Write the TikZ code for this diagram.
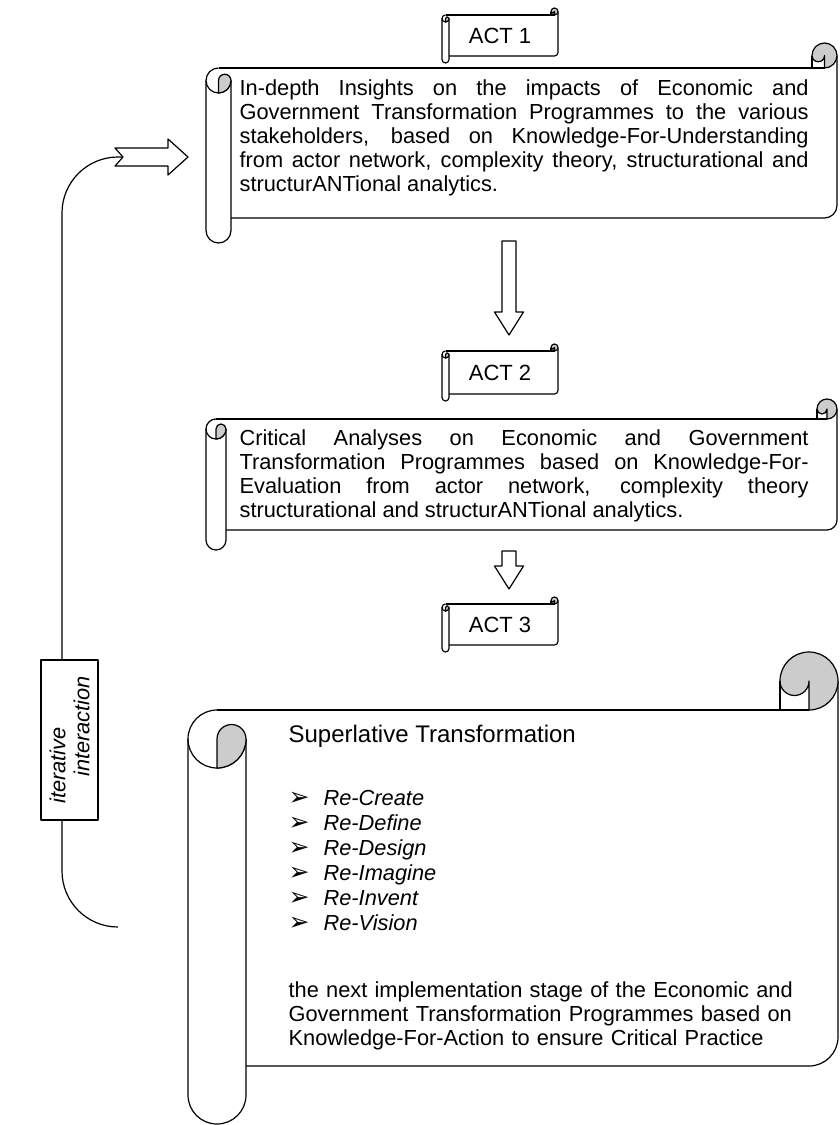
\documentclass[tikz,border=0pt]{standalone}
\usepackage{fontspec}
\usepackage{tikz}
\setmainfont{Liberation Sans}
\newfontfamily\dejavu{DejaVu Sans}
\definecolor{rollgray}{gray}{0.8}
\tolerance=10000
\hyphenpenalty=10000
\exhyphenpenalty=10000

\tikzset{
  bodytext/.style={font=\fontsize{21.8}{24}\selectfont, inner sep=0pt, align=justify},
  listtext/.style={font=\fontsize{21.8}{25}\selectfont, inner sep=0pt, align=left},
  titletext/.style={font=\fontsize{24}{28}\selectfont, inner sep=0pt},
  acttext/.style={font=\fontsize{22}{24}\selectfont, inner sep=0pt},
}

% horizontal scroll: left, top, right, bottom (measured downwards), roll size
\newcommand{\scrollshape}[5]{%
  \pgfmathsetmacro\scL{#1}%
  \pgfmathsetmacro\scT{-(#2)}%
  \pgfmathsetmacro\scR{#3}%
  \pgfmathsetmacro\scB{-(#4)}%
  \pgfmathsetmacro\scC{#5}%
  \pgfmathsetmacro\scH{(#5)/2}%
  \pgfmathsetmacro\scQ{(#5)/4}%
  % sheet
  \draw (\scL+\scH,\scT-\scC) -- (\scR-\scH,\scT-\scC);
  \draw (\scR,\scT-\scH) -- (\scR,\scB+\scC+\scH)
    arc[start angle=0, end angle=-90, radius=\scH] -- (\scL+\scC,\scB+\scC);
  % left roll
  \draw (\scL+\scH,\scT-\scC) arc[start angle=90, end angle=360, radius=\scH];
  \draw (\scL,\scT-\scC-\scH) -- (\scL,\scB+\scH)
    arc[start angle=180, end angle=360, radius=\scH] -- (\scL+\scC,\scT-\scC-\scH);
  \filldraw[fill=rollgray] (\scL+\scH,\scT-\scC-\scH)
    arc[start angle=180, end angle=0, radius=\scQ]
    arc[start angle=0, end angle=-90, radius=\scH] -- cycle;
  % right curl
  \filldraw[fill=rollgray] (\scR-\scH,\scT-\scC)
    arc[start angle=-90, end angle=180, radius=\scH]
    arc[start angle=180, end angle=360, radius=\scQ] -- cycle;
  \draw (\scR-\scC,\scT-\scH) -- (\scR-\scC,\scT-\scC);
}

% block arrow pointing down: x, top, head base, tip
\newcommand{\downblock}[4]{%
  \draw[fill=white] (#1-7,-#2) -- (#1+7,-#2) -- (#1+7,-#3) -- (#1+14.5,-#3)
    -- (#1,-#4) -- (#1-14.5,-#3) -- (#1-7,-#3) -- cycle;
}

\newcommand{\pointer}{{\dejavu\fontsize{25}{25}\selectfont ➢}}

\begin{document}
\begin{tikzpicture}[x=1pt, y=1pt, line width=1.2pt, line join=round]
            \useasboundingbox (0,0) rectangle (840,-1125);

            % Act 1
            \scrollshape{442}{8}{558}{63}{7}
            \node[acttext] (act1) at (500,-35.5) {ACT 1};
            \scrollshape{206}{43}{837}{243}{25}
            \node[bodytext, text width=569pt, anchor=base west] (insight) at (239,-95)
              {In-depth Insights on the impacts of Economic and\linebreak
               Government Transformation Programmes to the various\linebreak
               stakeholders, based on Knowledge-For-Understanding\linebreak
               from actor network, complexity theory, structurational and\linebreak
               structurANTional analytics.};

            \downblock{509}{241}{312}{335}

            % Act 2
            \scrollshape{442}{344}{558}{401}{7}
            \node[acttext] (act2) at (500,-372.5) {ACT 2};
            \scrollshape{206}{399}{837}{550}{20}
            \node[bodytext, text width=569pt, anchor=base west] (critique) at (239,-445)
              {Critical Analyses on Economic and Government\linebreak
               Transformation Programmes based on Knowledge-For-\linebreak
               Evaluation from actor network, complexity theory\linebreak
               structurational and structurANTional analytics.};

            \downblock{509}{551}{566}{589}

            % Act 3
            \scrollshape{442}{597}{558}{652}{7}
            \node[acttext] (act3) at (500,-625) {ACT 3};
            \scrollshape{188}{652}{838}{1124}{58}
            \node[titletext, anchor=base west] (suptitle) at (288,-742) {Superlative Transformation};
            \node[listtext, text width=300pt, anchor=base west] (relist) at (288,-805)
              {\makebox[35pt][l]{\pointer}\textit{Re-Create}\\
               \makebox[35pt][l]{\pointer}\textit{Re-Define}\\
               \makebox[35pt][l]{\pointer}\textit{Re-Design}\\
               \makebox[35pt][l]{\pointer}\textit{Re-Imagine}\\
               \makebox[35pt][l]{\pointer}\textit{Re-Invent}\\
               \makebox[35pt][l]{\pointer}\textit{Re-Vision}};
            \node[bodytext, text width=530pt, align=left, anchor=base west] (nextstage) at (288,-997)
              {the next implementation stage of the Economic and\\
               Government Transformation Programmes based on\\
               Knowledge-For-Action to ensure Critical Practice};

            % feedback loop
            \draw[fill=white] (115,-148) -- (168,-148) -- (168,-139) -- (188,-157)
              -- (168,-175) -- (168,-166) -- (115,-166) -- (123,-157) -- cycle;
            \coordinate (notch) at (123,-157);
            \coordinate (loopend) at (118,-927);
            \draw[rounded corners=56pt] (notch) -- (62,-157) -- (62,-927) -- (loopend);
            \node[draw, fill=white, rotate=90, minimum width=160pt, minimum height=57pt,
              inner sep=0pt, align=left, font=\itshape\fontsize{21.8}{24}\selectfont]
              (itbox) at (69.5,-740) {iterative\\\hspace*{27pt}interaction};
\end{tikzpicture}
\end{document}
